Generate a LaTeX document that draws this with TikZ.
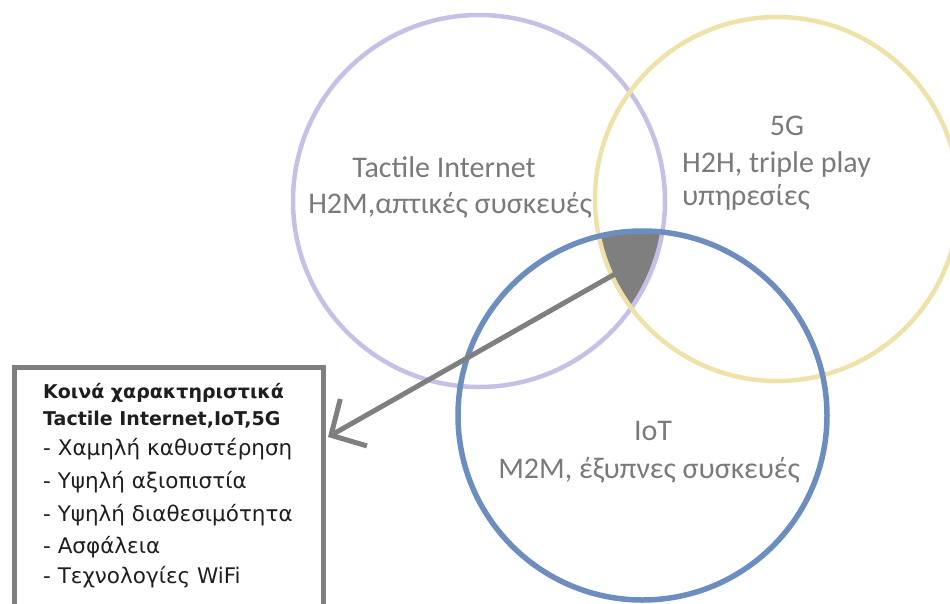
\documentclass[tikz,border=0pt]{standalone}
\usepackage{fontspec}
\setmainfont{Carlito}
\newfontfamily\listfont{DejaVu Sans}
\usetikzlibrary{arrows.meta,calc}
\definecolor{lavender}{HTML}{C8BFE7}
\definecolor{sand}{HTML}{EEE2A8}
\definecolor{steel}{HTML}{6C8EBF}
\definecolor{labelgray}{HTML}{7A7A7A}
\definecolor{framegray}{HTML}{7F7F7F}
\definecolor{listtext}{HTML}{1E1E1E}
\begin{document}
\begin{tikzpicture}[x=1pt,y=-1pt,
  ring/.style={circle, draw, fill=none, inner sep=0pt, minimum size=#1},
  circlabel/.style={font=\fontsize{30}{30}\selectfont, text=labelgray, inner sep=0pt, anchor=base},
  listline/.style={font=\listfont\fontsize{21.5}{21.5}\selectfont, text=listtext, inner sep=0pt, anchor=base west},
  listhead/.style={listline, font=\listfont\bfseries\fontsize{19}{19}\selectfont}]
\useasboundingbox (0,0) rectangle (950,603);
\clip (0,0) rectangle (950,603);

% area shared by all three technologies
\begin{scope}
  \clip (479,201) circle (186);
  \clip (777,199) circle (182);
  \fill[framegray] (642.5,415.5) circle (184.5);
\end{scope}

% the three technology circles
\node[ring=372, draw=lavender, line width=4.5pt] (tactile) at (479,201) {};
\node[ring=364, draw=sand, line width=4.5pt] (fiveg) at (777,199) {};
\node[ring=369, draw=steel, line width=5.5pt] (iot) at (642.5,415.5) {};

% circle labels
\node[circlabel] (tactileA) at (444,177) {Tactile Internet};
\node[circlabel] (tactileB) at (450,213) {H2M,απτικές συσκευές};
\node[circlabel] (fivegA) at (787,135) {5G};
\node[circlabel, anchor=base west] (fivegB) at (682,172) {H2H, triple play};
\node[circlabel, anchor=base west] (fivegC) at (682,205) {υπηρεσίες};
\node[circlabel] (iotA) at (653,440) {IoT};
\node[circlabel] (iotB) at (649,478) {M2M, έξυπνες συσκευές};

% box with the common characteristics
\node[draw=framegray, line width=5pt, minimum width=309pt, minimum height=275pt,
      inner sep=0pt, anchor=north west] (features) at (12,365) {};
\node[listhead] (l1) at (43,398) {Κοινά χαρακτηριστικά};
\node[listhead] (l2) at (43,425) {Tactile Internet,IoT,5G};
\node[listline] (l3) at (43,455) {- Χαμηλή καθυστέρηση};
\node[listline] (l4) at (43,488) {- Υψηλή αξιοπιστία};
\node[listline] (l5) at (43,521) {- Υψηλή διαθεσιμότητα};
\node[listline] (l6) at (43,553) {- Ασφάλεια};
\node[listline] (l7) at (43,583) {- Τεχνολογίες WiFi};

% arrow from the shared area to the box
\coordinate (spot) at (615,274);
\coordinate (tip) at ($(features.north east)+(2,72)$);
\draw[framegray, line width=5pt, -{Straight Barb[length=26pt, width=54pt]}] (spot) -- (tip);
\end{tikzpicture}
\end{document}
